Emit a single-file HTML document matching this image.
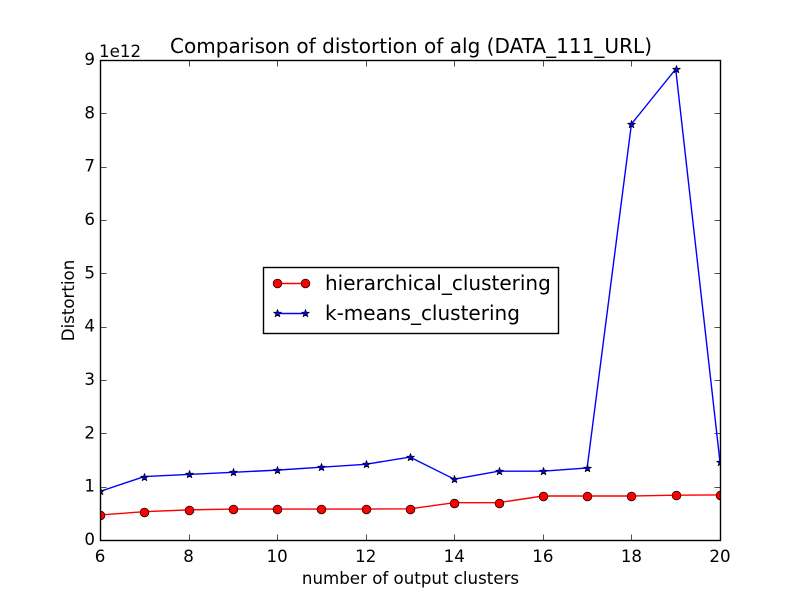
<!DOCTYPE html>
<html lang="en">
<head>
<meta charset="utf-8">
<title>Comparison of distortion of alg</title>
<style>
html,body{margin:0;padding:0;background:#fff;}
svg{display:block;}
text{font-family:"DejaVu Sans",sans-serif;fill:#000;}
</style>
</head>
<body>
<svg id="chart" xmlns="http://www.w3.org/2000/svg" width="800" height="600" viewBox="0 0 800 600">
<rect x="0" y="0" width="800" height="600" fill="#fff"/>
<defs><clipPath id="plot-clip"><rect x="100" y="60" width="620.5" height="480.5"/></clipPath></defs>
<g id="ticks"></g>
<g id="series" clip-path="url(#plot-clip)"></g>
<rect x="100.5" y="60.5" width="620" height="480" fill="none" stroke="#000" stroke-width="1.4"/>
<g id="labels"></g>
<text x="170" y="53" font-size="20" textLength="482" lengthAdjust="spacing">Comparison of distortion of alg (DATA_111_URL)</text>
<text x="410.5" y="584" font-size="16.67" text-anchor="middle">number of output clusters</text>
<text x="0" y="0" font-size="16.67" text-anchor="middle" transform="translate(74,300.5) rotate(-90)">Distortion</text>
<text x="99" y="57" font-size="16.67">1e12</text>
<g>
<rect x="263.5" y="267.5" width="295" height="66" fill="#fff" stroke="#000" stroke-width="1.4"/>
<line x1="277.5" y1="283.5" x2="305.5" y2="283.5" stroke="#f00" stroke-width="1.4"/>
<circle cx="277.5" cy="283.5" r="4.4" fill="#f00" stroke="#000" stroke-width="0.7"/>
<circle cx="305.5" cy="283.5" r="4.4" fill="#f00" stroke="#000" stroke-width="0.7"/>
<text x="325" y="290" font-size="20">hierarchical_clustering</text>
<line x1="277.5" y1="313.5" x2="305.5" y2="313.5" stroke="#00f" stroke-width="1.4"/>
<polygon id="legend-star-a" fill="#00f" stroke="#000" stroke-width="0.7" stroke-linejoin="bevel"/>
<polygon id="legend-star-b" fill="#00f" stroke="#000" stroke-width="0.7" stroke-linejoin="bevel"/>
<text x="325" y="320" font-size="20">k-means_clustering</text>
</g>
</svg>
<script>
const clusters = [6, 7, 8, 9, 10, 11, 12, 13, 14, 15, 16, 17, 18, 19, 20];
const hierarchicalValues = [0.47, 0.53, 0.565, 0.58, 0.58, 0.58, 0.58, 0.585, 0.70, 0.70, 0.825, 0.825, 0.825, 0.84, 0.845];
const kmeansValues = [0.91, 1.19, 1.23, 1.27, 1.31, 1.365, 1.42, 1.555, 1.14, 1.29, 1.29, 1.35, 7.80, 8.83, 1.46];
const xTickLabels = [6, 8, 10, 12, 14, 16, 18, 20];
const yTickLabels = [0, 1, 2, 3, 4, 5, 6, 7, 8, 9];

const NS = 'http://www.w3.org/2000/svg';
const xScale = v => 100 + (v - 6) / (20 - 6) * 620;
const yScale = v => 540 - v / 9 * 480;
const snap = p => Math.floor(p + 0.5) + 0.5;
const make = (tag, props) => {
  const el = document.createElementNS(NS, tag);
  Object.keys(props).forEach(k => el.setAttribute(k, props[k]));
  return el;
};
const starPoints = (cx, cy, R) => {
  const pts = [];
  for (let i = 0; i < 10; i++) {
    const r = i % 2 ? R * 0.382 : R;
    const a = -Math.PI / 2 + i * Math.PI / 5;
    pts.push((cx + r * Math.cos(a)).toFixed(2) + ',' + (cy + r * Math.sin(a)).toFixed(2));
  }
  return pts.join(' ');
};

const ticksG = document.getElementById('ticks');
const labelsG = document.getElementById('labels');
const seriesG = document.getElementById('series');

xTickLabels.forEach(t => {
  const x = snap(xScale(t));
  const bottom = make('line', {x1: x, y1: 540, x2: x, y2: 534.5, stroke: '#000', 'stroke-width': 0.7});
  
  
  ticksG.appendChild(bottom);
  const top = make('line', {x1: x, y1: 61, x2: x, y2: 66.5, stroke: '#000', 'stroke-width': 0.7});
  
  
  ticksG.appendChild(top);
  const label = make('text', {x: xScale(t), y: 562, 'font-size': 16.67, 'text-anchor': 'middle'});
  
  
  label.textContent = t;
  labelsG.appendChild(label);
});

yTickLabels.forEach(t => {
  const y = snap(yScale(t));
  const left = make('line', {x1: 101, y1: y, x2: 106.5, y2: y, stroke: '#000', 'stroke-width': 0.7});
  
  
  ticksG.appendChild(left);
  const right = make('line', {x1: 720, y1: y, x2: 714.5, y2: y, stroke: '#000', 'stroke-width': 0.7});
  
  
  ticksG.appendChild(right);
  const label = make('text', {x: 95, y: yScale(t) + 5, 'font-size': 16.67, 'text-anchor': 'end'});
  
  
  label.textContent = t;
  labelsG.appendChild(label);
});

const hierPts = clusters.map((c, i) => xScale(c) + ',' + yScale(hierarchicalValues[i])).join(' ');
const hierLine = make('polyline', {points: hierPts, fill: 'none', stroke: '#f00', 'stroke-width': 1.4});


seriesG.appendChild(hierLine);

const kmPts = clusters.map((c, i) => xScale(c) + ',' + yScale(kmeansValues[i])).join(' ');
const kmLine = make('polyline', {points: kmPts, fill: 'none', stroke: '#00f', 'stroke-width': 1.4});


seriesG.appendChild(kmLine);

clusters.forEach((c, i) => {
  const dot = make('circle', {cx: snap(xScale(c)), cy: snap(yScale(hierarchicalValues[i])), r: 4.4, fill: '#f00', stroke: '#000', 'stroke-width': 0.7});
  
  
  seriesG.appendChild(dot);
  const star = make('polygon', {points: starPoints(snap(xScale(c)), snap(yScale(kmeansValues[i])), 4.2), fill: '#00f', stroke: '#000', 'stroke-width': 0.7, 'stroke-linejoin': 'bevel'});
  
  
  seriesG.appendChild(star);
});

document.getElementById('legend-star-a').setAttribute('points', starPoints(277.5, 313.5, 4.2));
document.getElementById('legend-star-b').setAttribute('points', starPoints(305.5, 313.5, 4.2));
</script>
</body>
</html>
